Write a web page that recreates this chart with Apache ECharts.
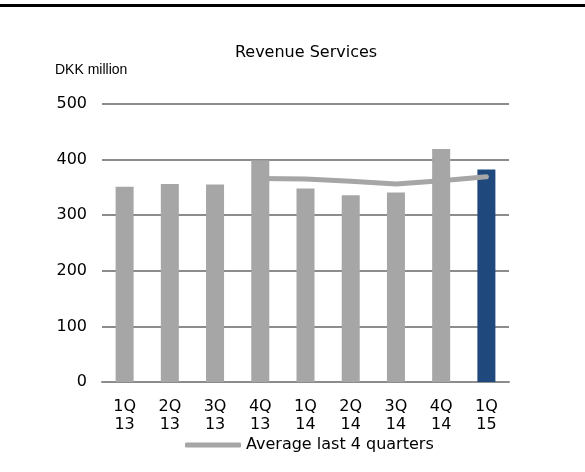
<!DOCTYPE html>
<html>
<head>
<meta charset="utf-8">
<script src="https://cdn.jsdelivr.net/npm/echarts@6/dist/echarts.min.js"></script>
<style>
  html, body { margin: 0; padding: 0; background: #fff; }
  #main { width: 585px; height: 472px; }
</style>
</head>
<body>
<div id="main"></div>
<script>
// quarters on the x axis
var quarters = ['1Q\n13', '2Q\n13', '3Q\n13', '4Q\n13', '1Q\n14', '2Q\n14', '3Q\n14', '4Q\n14', '1Q\n15'];
// revenue per quarter, DKK million
var revenue = [351, 356, 355, 399, 348, 336, 341, 419, 382];
// average of last 4 quarters ('-' = no value)
var avg4 = ['-', '-', '-', 366, 365, 361, 356, 362, 369];
var yTicks = [0, 100, 200, 300, 400, 500];

var font = 'DejaVu Sans';
var myChart = echarts.init(document.getElementById('main'));

myChart.setOption({
    animation: false,
    textStyle: { fontFamily: font },
    graphic: [{
        type: 'rect',
        shape: { x: 0, y: 4, width: 585, height: 3 },
        style: { fill: '#000' }
    }, {
        type: 'text',
        x: 306, y: 53,
        style: {
            text: 'Revenue Services', fill: '#000',
            font: '16px "DejaVu Sans"', align: 'center', verticalAlign: 'middle'
        }
    }, {
        type: 'text',
        x: 55, y: 70,
        style: {
            text: 'DKK million', fill: '#000',
            font: '14px "Liberation Sans"', align: 'left', verticalAlign: 'middle'
        }
    }],
    legend: {
        top: 432, left: 180,
        icon: 'roundRect', itemWidth: 56, itemHeight: 5, itemGap: 4,
        textStyle: { fontFamily: font, fontSize: 16, color: '#000' },
        data: ['Average last 4 quarters']
    },
    grid: { left: 102, right: 76, top: 104, bottom: 90 },
    xAxis: {
        type: 'category',
        data: quarters,
        axisLine: { lineStyle: { color: '#8c8c8c', width: 2 } },
        axisTick: { show: false },
        axisLabel: { fontFamily: font, fontSize: 16, color: '#000', lineHeight: 18, margin: 16 }
    },
    yAxis: {
        type: 'value',
        min: yTicks[0], max: yTicks[yTicks.length - 1], interval: 100,
        axisLine: { show: false },
        axisTick: { show: false },
        axisLabel: { fontFamily: font, fontSize: 16, color: '#000', margin: 15 },
        splitLine: { lineStyle: { color: '#8c8c8c', width: 2 } }
    },
    series: [{
        name: 'Revenue',
        type: 'bar',
        barWidth: 18,
        data: revenue.map(function (v, i) {
            return i === revenue.length - 1 ? { value: v, itemStyle: { color: '#1f497d' } } : v;
        }),
        itemStyle: { color: '#a6a6a6' }
    }, {
        name: 'Average last 4 quarters',
        type: 'line',
        data: avg4,
        symbol: 'none',
        lineStyle: { color: '#a6a6a6', width: 5, cap: 'round', join: 'round' },
        itemStyle: { color: '#a6a6a6' },
        z: 3
    }]
});
</script>
</body>
</html>
